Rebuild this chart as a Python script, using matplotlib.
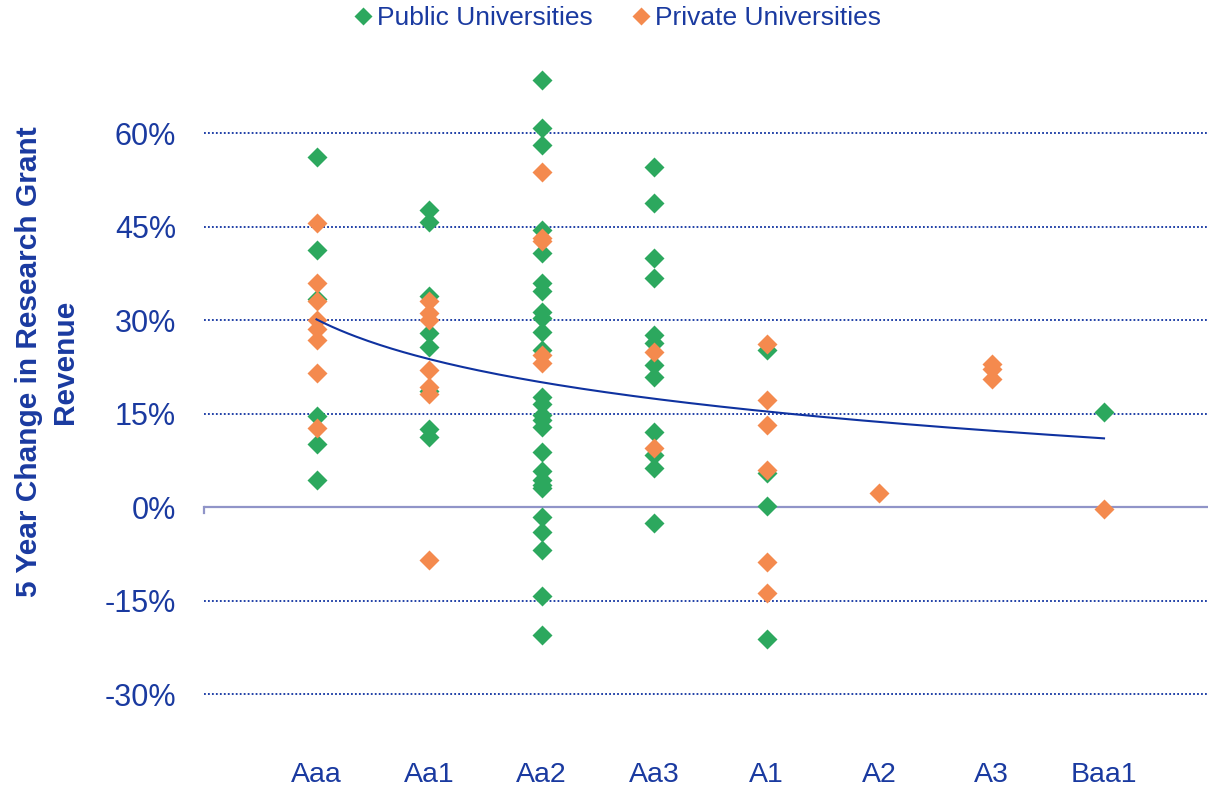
import numpy as np
import matplotlib
matplotlib.use("Agg")
import matplotlib.pyplot as plt
from matplotlib.lines import Line2D
from matplotlib.ticker import FuncFormatter

# Rating categories along the x axis
categories = ["Aaa", "Aa1", "Aa2", "Aa3", "A1", "A2", "A3", "Baa1"]

# 5-year change in research grant revenue (%), one list per rating category
public_values = [
    [56.2, 41.2, 33.3, 14.6, 10.1, 4.3],
    [47.6, 45.8, 33.8, 27.9, 25.7, 18.6, 12.5, 11.3],
    [68.5, 60.8, 58.1, 44.4, 40.7, 35.9, 34.7, 31.3, 30.3, 28.0, 25.2,
     17.7, 16.6, 14.8, 14.0, 12.9, 8.9, 5.7, 4.3, 3.5, 3.0,
     -1.6, -4.0, -6.9, -14.3, -20.5],
    [54.5, 48.7, 39.9, 36.7, 27.6, 26.3, 22.8, 20.9, 12.1, 8.3, 6.2, -2.6],
    [25.2, 5.4, 0.2, -21.2],
    [],
    [],
    [15.3],
]
private_values = [
    [45.6, 36.0, 33.0, 30.0, 28.5, 26.8, 21.5, 12.7],
    [33.0, 31.1, 30.0, 22.0, 19.3, 18.2, -8.5],
    [53.8, 43.1, 42.6, 24.4, 23.1],
    [24.8, 9.4],
    [26.2, 17.2, 13.2, 5.9, -8.9, -13.8],
    [2.2],
    [23.0, 22.2, 20.5],
    [-0.3],
]

# Logarithmic trend: y = a + b * ln(x), x = 1..8 (in %)
trend_a = 30.1
trend_b = -9.18

y_ticks = [-30, -15, 0, 15, 30, 45, 60]

GREEN = "#2ca85e"
ORANGE = "#f48a4e"
NAVY = "#0f32a0"
TEXT = "#1a3aa0"

plt.rcParams["font.family"] = ["Liberation Sans", "DejaVu Sans"]

fig = plt.figure(figsize=(12.08, 7.87), dpi=100)
ax = fig.add_axes([204 / 1208, 1 - 740.75 / 787, 1 - 204 / 1208, (740.75 - 39.5) / 787])

xpos = np.arange(1, len(categories) + 1)

# dotted gridlines (not at zero, which is the axis line)
for t in y_ticks:
    if t != 0:
        ax.axhline(t, color=NAVY, lw=1.3, ls=(0, (1, 1.2)), zorder=1)
ax.axhline(0, color="#9094c8", lw=1.6, zorder=1)
ax.plot([0, 0], [0, -0.9], color="#9094c8", lw=1.6, zorder=1, clip_on=False)

for x, vals in zip(xpos, public_values):
    if vals:
        ax.plot([x] * len(vals), vals, ls="none", marker="D", ms=10.3,
                color=GREEN, mec="none", zorder=3)
for x, vals in zip(xpos, private_values):
    if vals:
        ax.plot([x] * len(vals), vals, ls="none", marker="D", ms=10.3,
                color=ORANGE, mec="none", zorder=4)

tx = np.linspace(1, len(categories), 200)
ax.plot(tx, trend_a + trend_b * np.log(tx), color=NAVY, lw=1.5, zorder=5)

ax.set_xlim(0, 1004.6 / 112.57)
ax.set_ylim(-37.5, 75)
ax.set_xticks(xpos)
ax.set_xticklabels(categories)
ax.set_yticks(y_ticks)
ax.yaxis.set_major_formatter(FuncFormatter(lambda v, p: f"{v:.0f}%"))
ax.tick_params(axis="both", length=0, labelcolor=TEXT)
ax.tick_params(axis="y", pad=20, labelsize=22)
ax.tick_params(axis="x", pad=15, labelsize=20.5)
for s in ax.spines.values():
    s.set_visible(False)

fig.text(47 / 1208, 1 - 362 / 787, "5 Year Change in Research Grant\nRevenue",
         rotation=90, ha="center", va="center", multialignment="center",
         fontsize=21.5, fontweight="bold", color=TEXT, linespacing=1.33)

handles = [
    Line2D([], [], ls="none", marker="D", ms=9, color=GREEN, mec="none"),
    Line2D([], [], ls="none", marker="D", ms=9, color=ORANGE, mec="none"),
]
leg = fig.legend(handles, ["Public Universities", "Private Universities"],
                 loc="center", bbox_to_anchor=(618 / 1208, 1 - 18 / 787),
                 ncol=2, frameon=False, fontsize=19, handlelength=0.6,
                 handletextpad=0.25, columnspacing=1.5, borderaxespad=0)
for t in leg.get_texts():
    t.set_color(TEXT)

fig.savefig("out.png", dpi=100)
